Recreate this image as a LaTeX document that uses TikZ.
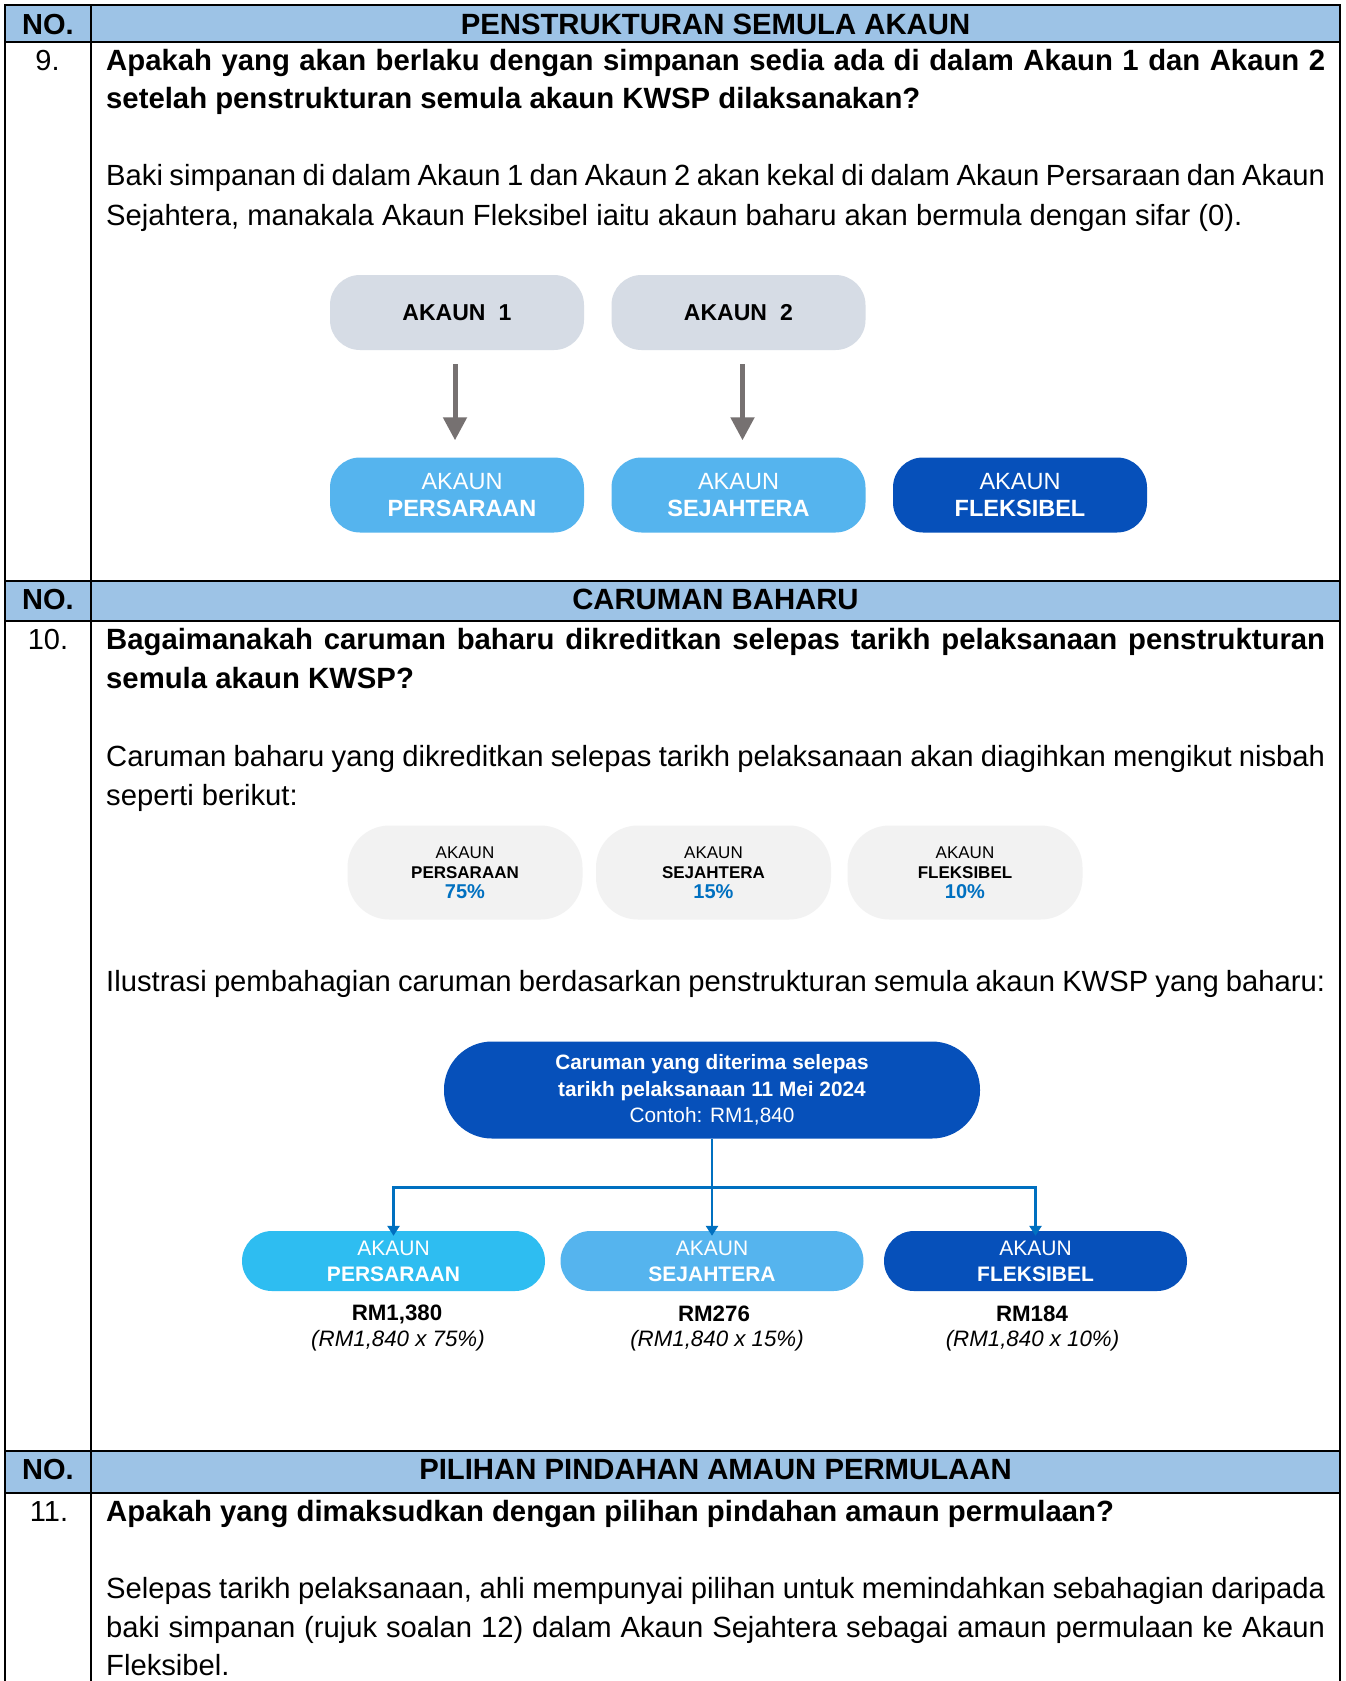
\documentclass[tikz,border=0pt]{standalone}
\usepackage{fontspec}
\setmainfont{Liberation Sans}
\usetikzlibrary{arrows.meta}
\definecolor{hdr}{HTML}{9DC3E6}
\definecolor{gbox}{HTML}{D6DCE5}
\definecolor{lblue}{HTML}{55B4EE}
\definecolor{dblue}{HTML}{0650BA}
\definecolor{cyanb}{HTML}{2EBDF1}
\definecolor{pctfill}{HTML}{F2F2F2}
\definecolor{pctblue}{HTML}{0070C0}
\definecolor{agray}{HTML}{767171}
\newcommand\fsz[2]{\fontsize{#1pt}{#2pt}\selectfont}
\newcommand\jline[1]{\makebox[1219pt][s]{#1}}
\begin{document}
\begin{tikzpicture}[x=1pt,y=-1pt,
  tbl/.style={line width=2pt,black},
  txt/.style={anchor=base west,inner sep=0pt,font=\fsz{29.2}{34}},
  qtxt/.style={txt,font=\bfseries\fsz{29.3}{34}},
  htxt/.style={anchor=base,inner sep=0pt,font=\bfseries\fsz{29.3}{34}},
  ntxt/.style={anchor=base,inner sep=0pt,font=\fsz{29}{34}},
  box1/.style={rounded corners=30pt,minimum width=254pt,minimum height=75pt,inner sep=0pt,align=center},
  gboxs/.style={box1,fill=gbox,font=\bfseries\fsz{23}{27}},
  lbox/.style={box1,fill=lblue,text=white,font=\fsz{23.5}{27}},
  dbox/.style={box1,fill=dblue,text=white,font=\fsz{23.5}{27}},
  pbox/.style={rounded corners=42pt,minimum width=235pt,minimum height=94pt,inner sep=0pt,fill=pctfill,align=center,font=\fsz{17}{20}},
  bbox/.style={rounded corners=30pt,minimum width=303pt,minimum height=60pt,inner sep=0pt,align=center,text=white,font=\fsz{21}{26}},
  garrow/.style={agray,line width=5pt,-{Triangle[width=23pt,length=23pt]}},
  barrow/.style={pctblue,line width=2.7pt,-{Triangle[width=12pt,length=10pt]}},
  bline/.style={pctblue,line width=2.7pt},
  valtxt/.style={inner sep=0pt,font=\bfseries\fsz{22.3}{26}},
  exptxt/.style={inner sep=0pt,font=\itshape\fsz{22.3}{26}}
]
\useasboundingbox (0,0) rectangle (1346,1681);
\fill[white] (0,0) rectangle (1346,1681);
% header fills
\fill[hdr] (5,5) rectangle (1340,42);
\fill[hdr] (5,581) rectangle (1340,621);
\fill[hdr] (5,1451) rectangle (1340,1493);
% table lines
\foreach \yy in {5,42,581,621,1451,1493} \draw[tbl] (4,\yy) -- (1341,\yy);
\foreach \xx in {5,91,1340} \draw[tbl] (\xx,4) -- (\xx,1681);

% ---------- section 9 ----------
\node[ntxt] (no1) at (48,34) {\bfseries NO.};
\node[htxt] (h1) at (715.5,34) {PENSTRUKTURAN SEMULA AKAUN};
\node[ntxt] (n9) at (47.5,70) {9.};
\node[qtxt] (q9a) at (106,70) {\jline{Apakah yang akan berlaku dengan simpanan sedia ada di dalam Akaun 1 dan Akaun 2}};
\node[qtxt] (q9b) at (106,108.6) {setelah penstrukturan semula akaun KWSP dilaksanakan?};
\node[txt] (b9a) at (106,185.8) {\jline{Baki simpanan di dalam Akaun 1 dan Akaun 2 akan kekal di dalam Akaun Persaraan dan Akaun}};
\node[txt] (b9b) at (106,225.4) {Sejahtera, manakala Akaun Fleksibel iaitu akaun baharu akan bermula dengan sifar (0).};

\node[gboxs] (a1) at (457,312.5) {AKAUN\hspace{0.3em} 1};
\node[gboxs] (a2) at (738.5,312.5) {AKAUN\hspace{0.3em} 2};
\node[lbox] (p1) at (457,495) {\hspace*{10pt}AKAUN\\\hspace*{10pt}\textbf{PERSARAAN}};
\node[lbox] (s1) at (738.5,495) {AKAUN\\\textbf{SEJAHTERA}};
\node[dbox] (f1) at (1020,495) {AKAUN\\\textbf{FLEKSIBEL}};
\draw[garrow] ([xshift=-2pt,yshift=-14pt]a1.south) -- ([xshift=-2pt,yshift=17pt]p1.north);
\draw[garrow] ([xshift=4pt,yshift=-14pt]a2.south) -- ([xshift=4pt,yshift=17pt]s1.north);

% ---------- section 10 ----------
\node[ntxt] (no2) at (48,609.5) {\bfseries NO.};
\node[htxt] (h2) at (715.5,609.5) {CARUMAN BAHARU};
\node[ntxt] (n10) at (48,649.8) {10.};
\node[qtxt] (q10a) at (106,649.8) {\jline{Bagaimanakah caruman baharu dikreditkan selepas tarikh pelaksanaan penstrukturan}};
\node[qtxt] (q10b) at (106,688.4) {semula akaun KWSP?};
\node[txt] (b10a) at (106,766.6) {\jline{Caruman baharu yang dikreditkan selepas tarikh pelaksanaan akan diagihkan mengikut nisbah}};
\node[txt] (b10b) at (106,805.2) {seperti berikut:};

\node[pbox] (pp) at (465,872.5) {AKAUN\\\textbf{PERSARAAN}\\{\fsz{20}{20}\bfseries\color{pctblue}75\%}};
\node[pbox] (ps) at (713.5,872.5) {AKAUN\\\textbf{SEJAHTERA}\\{\fsz{20}{20}\bfseries\color{pctblue}15\%}};
\node[pbox] (pf) at (965,872.5) {AKAUN\\\textbf{FLEKSIBEL}\\{\fsz{20}{20}\bfseries\color{pctblue}10\%}};

\node[txt] (il) at (106,991.7) {\jline{Ilustrasi pembahagian caruman berdasarkan penstrukturan semula akaun KWSP yang baharu:}};

\node[rounded corners=48pt,minimum width=536pt,minimum height=97pt,inner sep=0pt,fill=dblue,text=white,align=center,font=\fsz{20.8}{26.5}] (top) at (712,1090)
  {\textbf{Caruman yang diterima selepas}\\\textbf{tarikh pelaksanaan 11 Mei 2024}\\Contoh: RM1,840};

\node[bbox,fill=cyanb] (p2) at (393.5,1261) {AKAUN\\\textbf{PERSARAAN}};
\node[bbox,fill=lblue] (s2) at (712,1261) {AKAUN\\\textbf{SEJAHTERA}};
\node[bbox,fill=dblue] (f2) at (1035.5,1261) {AKAUN\\\textbf{FLEKSIBEL}};

\coordinate (hub) at (712,1187.5);
\draw[bline] (top.south) -- (hub);
\draw[barrow] (hub) -| ([yshift=-5pt]p2.north);
\draw[barrow] (hub) -| ([yshift=-5pt]f2.north);
\draw[barrow] (hub) -- ([yshift=-5pt]s2.north);

\node[valtxt] (v1) at (397,1314) {RM1,380};
\node[valtxt] (v2) at (714,1314) {RM276};
\node[valtxt] (v3) at (1032,1314) {RM184};
\node[exptxt] (e1) at (398,1340.7) {(RM1,840 x 75\%)};
\node[exptxt] (e2) at (717,1340.7) {(RM1,840 x 15\%)};
\node[exptxt] (e3) at (1032.5,1340.7) {(RM1,840 x 10\%)};

% ---------- section 11 ----------
\node[ntxt] (no3) at (48,1479.5) {\bfseries NO.};
\node[htxt] (h3) at (715.5,1479.5) {PILIHAN PINDAHAN AMAUN PERMULAAN};
\node[ntxt] (n11) at (49,1521) {11.};
\node[qtxt] (q11) at (106,1521) {Apakah yang dimaksudkan dengan pilihan pindahan amaun permulaan?};
\node[txt] (b11a) at (106,1598) {\jline{Selepas tarikh pelaksanaan, ahli mempunyai pilihan untuk memindahkan sebahagian daripada}};
\node[txt] (b11b) at (106,1637) {\jline{baki simpanan (rujuk soalan 12) dalam Akaun Sejahtera sebagai amaun permulaan ke Akaun}};
\node[txt] (b11c) at (106,1675.5) {Fleksibel.};
\end{tikzpicture}
\end{document}
